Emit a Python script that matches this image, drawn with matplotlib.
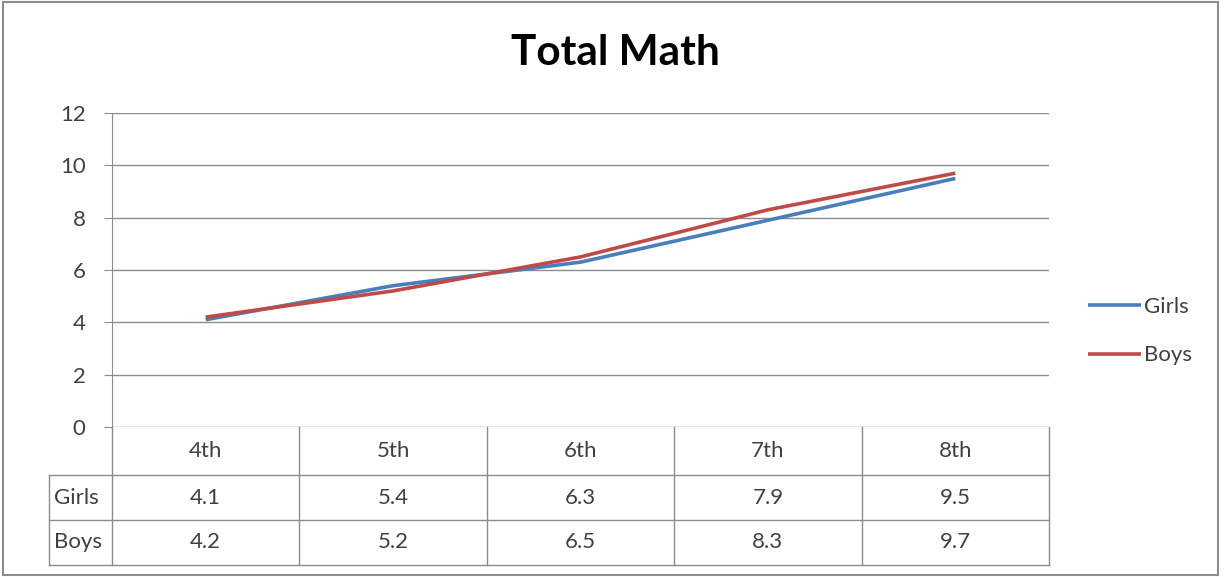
import numpy as np
import matplotlib
matplotlib.use("Agg")
import matplotlib.pyplot as plt
import matplotlib.transforms as mtransforms
from matplotlib.patches import Rectangle

plt.rcParams['font.family'] = ['Lato', 'DejaVu Sans']

# data
grades = ["4th", "5th", "6th", "7th", "8th"]
girls = [4.1, 5.4, 6.3, 7.9, 9.5]
boys = [4.2, 5.2, 6.5, 8.3, 9.7]
yticks = [0, 2, 4, 6, 8, 10, 12]

W, H = 1224, 577
fig = plt.figure(figsize=(W / 100, H / 100), dpi=100)

# plot area in pixels (from the reference)
left, right, top, bottom = 112, 1049, 113, 427
ax = fig.add_axes([left / W, 1 - bottom / H, (right - left) / W, (bottom - top) / H])

x = np.arange(len(grades))
ax.plot(x, girls, color="#4A7EBB", lw=2.6, label="Girls", solid_capstyle="butt")
ax.plot(x, boys, color="#BE4B48", lw=2.6, label="Boys", solid_capstyle="butt")

fs = 16
ax.set_xlim(-0.5, len(grades) - 0.5)
ax.set_ylim(0, 12)
ax.set_yticks(yticks)
ax.set_xticks([])
ax.grid(axis="y", color="#8C8C8C", lw=1)
ax.set_axisbelow(True)
for s in ["top", "right", "bottom"]:
    ax.spines[s].set_visible(False)
ax.spines["left"].set_color("#8C8C8C")
ax.tick_params(axis="y", length=6, color="#8C8C8C", labelsize=fs,
               labelcolor="#404040", pad=13)

fig.text(0.503, 1 - 53 / H, "Total Math", ha="center", va="center",
         fontsize=30.5, fontweight="bold", color="#000000")

# data table under the axis
ph = bottom - top
pw = right - left
r1 = -(475 - bottom) / ph
r2 = -(520 - bottom) / ph
r3 = -(565 - bottom) / ph
lab_left = -(left - 49) / pw
gc = "#8C8C8C"
blend = mtransforms.blended_transform_factory(ax.transData, ax.transAxes)

# horizontal rules
ax.plot([0, 1], [r1, r1], transform=ax.transAxes, color=gc, lw=1, clip_on=False)
for yy in [r2, r3]:
    ax.plot([lab_left, 1], [yy, yy], transform=ax.transAxes, color=gc, lw=1, clip_on=False)
ax.plot([lab_left, 0], [r1, r1], transform=ax.transAxes, color=gc, lw=1, clip_on=False)
# vertical rules
for i in range(len(grades) + 1):
    ax.plot([i - 0.5, i - 0.5], [0, r3], transform=blend,
            color=gc, lw=1, clip_on=False)
ax.plot([lab_left, lab_left], [r1, r3], transform=ax.transAxes, color=gc, lw=1, clip_on=False)

tkw = dict(ha="center", va="center", fontsize=fs, color="#404040", transform=blend, clip_on=False)
for i, g in enumerate(grades):
    ax.text(i, r1 / 2, g, **tkw)
    ax.text(i, (r1 + r2) / 2, f"{girls[i]:.1f}", **tkw)
    ax.text(i, (r2 + r3) / 2, f"{boys[i]:.1f}", **tkw)
for lab, yy in [("Girls", (r1 + r2) / 2), ("Boys", (r2 + r3) / 2)]:
    ax.text(lab_left + 0.005, yy, lab, ha="left", va="center", fontsize=fs,
            color="#404040", transform=ax.transAxes)

fig.legend(loc="center left", bbox_to_anchor=(1068 / W, 1 - 331 / H), frameon=False,
           handlelength=2.4, handletextpad=0.1, labelspacing=1.3, fontsize=fs,
           labelcolor="#404040")

fig.patches.append(Rectangle((3 / W, 2 / H), (1218 - 3) / W, (575 - 2) / H,
                             transform=fig.transFigure, fill=False, edgecolor="#8C8C8C", lw=1.5))

fig.savefig("out.png", dpi=100)
